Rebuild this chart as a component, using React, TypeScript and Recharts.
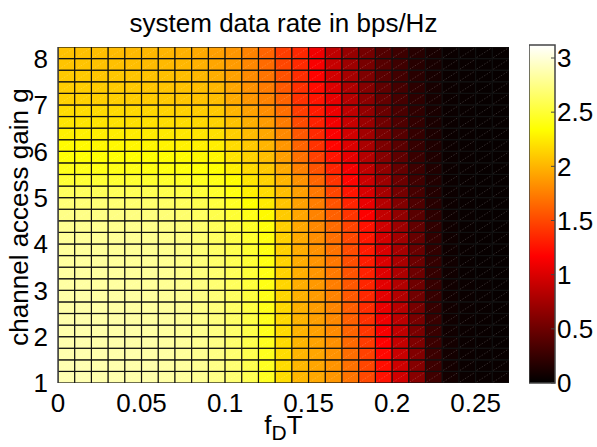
import React from "react";
import { BarChart, Bar, XAxis, YAxis } from "recharts";

// grid edges of the surface
const fdT = [0, 0.01, 0.02, 0.03, 0.04, 0.05, 0.06, 0.07, 0.08, 0.09, 0.1, 0.11, 0.12, 0.13, 0.14, 0.15, 0.16, 0.17, 0.18, 0.19, 0.2, 0.21, 0.22, 0.23, 0.24, 0.25, 0.26, 0.27];
const gain = [1, 1.25, 1.5, 1.75, 2, 2.25, 2.5, 2.75, 3, 3.25, 3.5, 3.75, 4, 4.25, 4.5, 4.75, 5, 5.25, 5.5, 5.75, 6, 6.25, 6.5, 6.75, 7, 7.25, 7.5, 7.75, 8, 8.25];
const xTicks = [0, 0.05, 0.1, 0.15, 0.2, 0.25];
const yTicks = [1, 2, 3, 4, 5, 6, 7, 8];
const cbTicks = [0, 0.5, 1, 1.5, 2, 2.5, 3];
const cMax = 3.12;

// data rate (bps/Hz), one row per gain cell, bottom row first
const rate = [
  [2.88,2.88,2.87,2.87,2.86,2.86,2.84,2.82,2.79,2.75,2.69,2.59,2.44,2.18,2.01,1.94,1.86,1.70,1.50,1.25,0.95,0.62,0.29,0.09,0.05,0.04,0.04],
  [2.88,2.88,2.87,2.87,2.86,2.86,2.84,2.82,2.79,2.75,2.69,2.58,2.44,2.18,2.01,1.93,1.85,1.69,1.49,1.23,0.94,0.61,0.28,0.09,0.05,0.04,0.04],
  [2.87,2.87,2.87,2.86,2.86,2.85,2.84,2.81,2.78,2.74,2.68,2.58,2.43,2.18,2.00,1.93,1.84,1.67,1.47,1.20,0.92,0.59,0.27,0.09,0.05,0.04,0.04],
  [2.87,2.87,2.86,2.86,2.85,2.85,2.83,2.81,2.78,2.74,2.67,2.57,2.43,2.17,2.00,1.92,1.83,1.65,1.44,1.17,0.90,0.58,0.27,0.09,0.05,0.04,0.03],
  [2.86,2.86,2.86,2.85,2.85,2.84,2.82,2.80,2.77,2.73,2.66,2.56,2.42,2.17,1.99,1.91,1.81,1.63,1.42,1.14,0.88,0.56,0.26,0.08,0.05,0.04,0.03],
  [2.86,2.86,2.85,2.85,2.84,2.83,2.82,2.79,2.76,2.72,2.65,2.55,2.42,2.16,1.99,1.90,1.80,1.61,1.39,1.10,0.86,0.55,0.26,0.08,0.05,0.04,0.03],
  [2.85,2.85,2.85,2.84,2.83,2.83,2.81,2.79,2.75,2.71,2.64,2.54,2.41,2.16,1.98,1.89,1.78,1.60,1.37,1.07,0.84,0.54,0.25,0.08,0.05,0.04,0.03],
  [2.85,2.85,2.84,2.84,2.83,2.82,2.80,2.78,2.74,2.70,2.63,2.53,2.41,2.15,1.98,1.88,1.77,1.58,1.35,1.05,0.82,0.52,0.25,0.08,0.05,0.04,0.03],
  [2.84,2.84,2.83,2.83,2.82,2.81,2.79,2.77,2.73,2.69,2.62,2.52,2.40,2.15,1.97,1.87,1.75,1.57,1.34,1.04,0.81,0.51,0.25,0.08,0.05,0.04,0.03],
  [2.83,2.83,2.83,2.82,2.81,2.81,2.79,2.76,2.72,2.68,2.61,2.51,2.40,2.14,1.97,1.86,1.73,1.55,1.32,1.02,0.79,0.50,0.24,0.08,0.04,0.03,0.03],
  [2.82,2.82,2.82,2.81,2.80,2.80,2.78,2.75,2.71,2.66,2.59,2.50,2.39,2.14,1.96,1.85,1.72,1.53,1.30,1.01,0.78,0.49,0.24,0.08,0.04,0.03,0.03],
  [2.81,2.81,2.81,2.80,2.80,2.79,2.77,2.74,2.70,2.65,2.58,2.49,2.39,2.13,1.96,1.84,1.70,1.52,1.29,0.99,0.76,0.48,0.23,0.07,0.04,0.03,0.03],
  [2.80,2.80,2.80,2.80,2.79,2.78,2.76,2.73,2.69,2.63,2.56,2.48,2.38,2.13,1.95,1.82,1.68,1.50,1.27,0.97,0.74,0.47,0.23,0.07,0.04,0.03,0.03],
  [2.78,2.78,2.78,2.77,2.77,2.76,2.74,2.71,2.67,2.61,2.54,2.46,2.37,2.12,1.94,1.80,1.66,1.48,1.25,0.95,0.72,0.45,0.22,0.07,0.04,0.03,0.03],
  [2.75,2.75,2.74,2.74,2.73,2.72,2.70,2.67,2.63,2.57,2.50,2.41,2.32,2.10,1.93,1.77,1.61,1.41,1.16,0.89,0.66,0.41,0.20,0.065,0.04,0.03,0.03],
  [2.70,2.70,2.70,2.69,2.68,2.67,2.65,2.62,2.58,2.53,2.45,2.34,2.25,2.07,1.91,1.75,1.55,1.33,1.07,0.82,0.59,0.36,0.18,0.06,0.04,0.03,0.03],
  [2.62,2.62,2.61,2.61,2.60,2.59,2.57,2.55,2.51,2.47,2.39,2.27,2.18,2.04,1.90,1.72,1.49,1.26,0.99,0.76,0.53,0.32,0.16,0.055,0.04,0.03,0.03],
  [2.50,2.50,2.50,2.49,2.49,2.48,2.47,2.45,2.43,2.40,2.33,2.22,2.14,2.00,1.84,1.64,1.41,1.19,0.93,0.71,0.49,0.30,0.155,0.055,0.04,0.03,0.03],
  [2.41,2.41,2.40,2.40,2.40,2.39,2.38,2.37,2.36,2.34,2.27,2.17,2.09,1.95,1.76,1.55,1.33,1.12,0.88,0.66,0.46,0.28,0.15,0.055,0.04,0.03,0.03],
  [2.35,2.35,2.35,2.35,2.34,2.34,2.33,2.32,2.31,2.30,2.22,2.13,2.04,1.90,1.69,1.47,1.26,1.06,0.83,0.61,0.43,0.26,0.14,0.055,0.04,0.03,0.03],
  [2.32,2.32,2.31,2.31,2.30,2.30,2.29,2.28,2.27,2.26,2.18,2.09,2.00,1.86,1.63,1.40,1.19,1.01,0.78,0.57,0.41,0.25,0.14,0.055,0.04,0.03,0.03],
  [2.27,2.27,2.26,2.26,2.25,2.25,2.24,2.23,2.22,2.20,2.12,2.03,1.94,1.80,1.57,1.36,1.15,0.96,0.74,0.54,0.39,0.24,0.13,0.05,0.04,0.03,0.03],
  [2.22,2.22,2.21,2.21,2.20,2.20,2.19,2.18,2.16,2.14,2.06,1.97,1.88,1.74,1.51,1.32,1.12,0.91,0.70,0.51,0.36,0.23,0.12,0.05,0.04,0.03,0.03],
  [2.18,2.18,2.17,2.17,2.16,2.15,2.14,2.13,2.11,2.09,2.00,1.91,1.82,1.68,1.45,1.29,1.09,0.87,0.67,0.48,0.34,0.22,0.12,0.05,0.04,0.03,0.03],
  [2.13,2.13,2.12,2.12,2.11,2.10,2.09,2.08,2.06,2.04,1.95,1.86,1.77,1.63,1.40,1.26,1.06,0.83,0.64,0.46,0.32,0.21,0.11,0.05,0.04,0.03,0.03],
  [2.11,2.11,2.10,2.10,2.09,2.08,2.07,2.06,2.04,2.01,1.93,1.84,1.74,1.58,1.39,1.22,1.01,0.80,0.61,0.44,0.31,0.20,0.11,0.05,0.04,0.03,0.03],
  [2.09,2.09,2.08,2.08,2.07,2.06,2.05,2.04,2.01,1.97,1.91,1.81,1.70,1.54,1.37,1.18,0.96,0.76,0.58,0.41,0.30,0.19,0.11,0.05,0.04,0.03,0.03],
  [2.07,2.07,2.06,2.05,2.04,2.03,2.02,2.01,1.98,1.93,1.88,1.79,1.66,1.49,1.36,1.14,0.91,0.72,0.55,0.39,0.29,0.18,0.11,0.05,0.04,0.03,0.03],
  [2.06,2.05,2.04,2.03,2.02,2.01,2.00,1.98,1.95,1.90,1.86,1.77,1.63,1.45,1.35,1.10,0.87,0.69,0.53,0.37,0.28,0.18,0.11,0.05,0.04,0.03,0.03],
];

const font = "'Liberation Sans', Arial, sans-serif";

// matlab "hot" colormap
function hot(v: number) {
  const t = Math.max(0, Math.min(1, v / cMax));
  const r = Math.min(1, t / 0.375);
  const g = Math.max(0, Math.min(1, (t - 0.375) / 0.375));
  const b = Math.max(0, Math.min(1, (t - 0.75) / 0.25));
  return `rgb(${Math.round(r * 255)},${Math.round(g * 255)},${Math.round(b * 255)})`;
}

const chartData = fdT.slice(0, -1).map((x, c) => {
  const d: any = { x: (x + fdT[c + 1]) / 2, col: c, base: gain[0] };
  rate.forEach((_, r) => {
    d["r" + r] = gain[r + 1] - gain[r];
  });
  return d;
});

const cbData = [{ name: "cb", v: cMax }];

const fmt = (v: number) => String(v);

export default function App() {
  const tickStyle = { fill: "#000", fontSize: 26, fontFamily: font };
  return (
    <div style={{ position: "absolute", left: 0, top: 0, width: 597, height: 447, background: "#fff", fontFamily: font }}>
      <div style={{ position: "absolute", left: 58, width: 451, top: 9, textAlign: "center", fontSize: 26, color: "#000", lineHeight: "28px" }}>
        system data rate in bps/Hz
      </div>
      <BarChart
        width={597}
        height={447}
        data={chartData}
        margin={{ top: 47, right: 88, bottom: 0, left: 0 }}
        barCategoryGap={0}
        barGap={0}
        style={{ position: "absolute", left: 0, top: 0 }}
      >
        <XAxis
          dataKey="x"
          type="number"
          domain={[0, 0.27]}
          ticks={xTicks}
          tickFormatter={fmt}
          height={64}
          tickLine={false}
          axisLine={false}
          tick={tickStyle}
          tickMargin={5}
          interval={0}
          allowDataOverflow
        />
        <YAxis
          type="number"
          domain={[1, 8.25]}
          ticks={yTicks}
          width={58}
          tickLine={false}
          axisLine={{ stroke: "#444", strokeWidth: 1.5 }}
          tick={tickStyle}
          tickMargin={4}
          interval={0}
          allowDataOverflow
        />
        <Bar dataKey="base" stackId="s" fill="transparent" isAnimationActive={false} />
        {rate.map((row, r) => (
          <Bar
            key={r}
            dataKey={"r" + r}
            stackId="s"
            isAnimationActive={false}
            shape={(p: any) => {
              const fill = hot(row[p.payload.col]);
              return (
                <g>
                  <rect x={p.x} y={p.y} width={p.width} height={p.height} fill={fill} stroke="#111" strokeWidth={1.2} />
                  <line
                    x1={p.x + 1}
                    y1={p.y + p.height - 1}
                    x2={p.x + p.width - 1}
                    y2={p.y + 1}
                    stroke="#fff"
                    strokeOpacity={0.22}
                    strokeWidth={0.8}
                    strokeDasharray="1.5 1.5"
                  />
                </g>
              );
            }}
          />
        ))}
      </BarChart>
      <BarChart
        width={68}
        height={447}
        data={cbData}
        margin={{ top: 45, right: 0, bottom: 64, left: 0 }}
        barCategoryGap={0}
        style={{ position: "absolute", left: 529, top: 0 }}
      >
        <defs>
          <linearGradient id="hotGrad" x1="0" y1="1" x2="0" y2="0">
            <stop offset="0" stopColor={hot(0)} />
            <stop offset="0.375" stopColor={hot(cMax * 0.375)} />
            <stop offset="0.75" stopColor={hot(cMax * 0.75)} />
            <stop offset="1" stopColor={hot(cMax)} />
          </linearGradient>
        </defs>
        <XAxis dataKey="name" type="category" hide />
        <YAxis
          yAxisId="l"
          orientation="left"
          type="number"
          domain={[0, cMax]}
          ticks={cbTicks}
          width={0}
          axisLine={false}
          tickSize={-4}
          tickLine={{ stroke: "#444" }}
          tickFormatter={() => ""}
          interval={0}
        />
        <YAxis
          yAxisId="r"
          orientation="right"
          type="number"
          domain={[0, cMax]}
          ticks={cbTicks}
          width={42}
          axisLine={false}
          tickSize={-4}
          tickMargin={6}
          tickLine={{ stroke: "#444" }}
          tick={{ ...tickStyle, textAnchor: "start" }}
          interval={0}
        />
        <Bar yAxisId="r" dataKey="v" fill="url(#hotGrad)" stroke="#444" strokeWidth={1.5} isAnimationActive={false} />
      </BarChart>
      <div
        style={{
          position: "absolute",
          left: 19,
          top: 217,
          transform: "translate(-50%, -50%) rotate(-90deg)",
          whiteSpace: "nowrap",
          fontSize: 26,
          lineHeight: "28px",
          color: "#000",
        }}
      >
        channel access gain g
      </div>
      <div style={{ position: "absolute", left: 58, width: 451, top: 411, textAlign: "center", fontSize: 26, color: "#000", lineHeight: "28px" }}>
        f<sub style={{ fontSize: 21, lineHeight: 0 }}>D</sub>T
      </div>
    </div>
  );
}
